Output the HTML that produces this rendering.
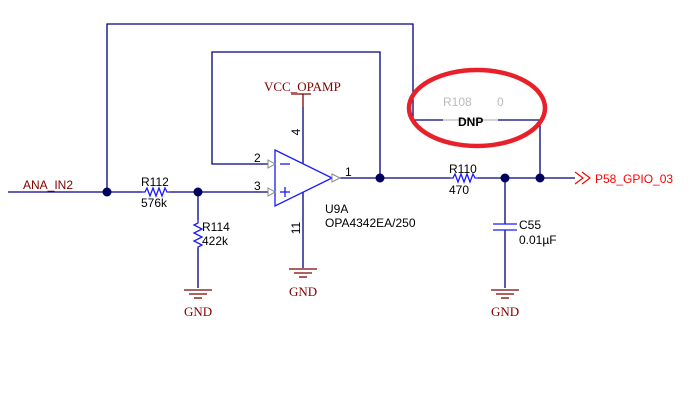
<!DOCTYPE html>
<html><head><meta charset="utf-8"><style>
body{margin:0;background:#fff}
svg{display:block}
text{font-family:"Liberation Sans",sans-serif;font-size:12px}
.s{font-family:"Liberation Serif",serif;font-size:13px}
</style></head><body>
<svg width="695" height="402" viewBox="0 0 695 402" xmlns="http://www.w3.org/2000/svg">
<g stroke="#00007f" stroke-width="1.3" fill="none">
<polyline points="107,192 107,24 413,24 413,120 443,120"/>
<polyline points="498,120 540,120 540,178"/>
<polyline points="268,164 212,164 212,52 380,52 380,178"/>
<line x1="8" y1="192" x2="142" y2="192"/>
<line x1="170" y1="192" x2="268" y2="192"/>
<line x1="340" y1="178" x2="450" y2="178"/>
<line x1="478" y1="178" x2="575" y2="178"/>
<line x1="198" y1="192" x2="198" y2="220"/>
<line x1="198" y1="248" x2="198" y2="288"/>
<line x1="505" y1="178" x2="505" y2="224"/>
<line x1="505" y1="230" x2="505" y2="288"/>
<line x1="303" y1="107" x2="303" y2="164"/>
<line x1="303" y1="192" x2="303" y2="268"/>
</g>
<line x1="443" y1="120" x2="498" y2="120" stroke="#bbb" stroke-width="1.2"/>
<g stroke="#1a1aff" stroke-width="1.3" fill="none">
<polyline points="142,192 145,192 147,188 150,196 153,188 156,196 159,188 162,196 165,188 167,192 170,192"/>
<polyline points="450,178 453,178 455,174 458,182 461,174 464,182 467,174 470,182 473,174 475,178 478,178"/>
<polyline points="198,220 198,223 194,225 202,229 194,233 202,237 194,241 202,245 198,247 198,248"/>
<polygon points="275,150 332,178 275,206"/>
<line x1="493" y1="224" x2="517" y2="224"/><line x1="493" y1="230" x2="517" y2="230"/>
<line x1="280" y1="164" x2="290" y2="164"/>
<line x1="280" y1="192" x2="290" y2="192"/><line x1="285" y1="187" x2="285" y2="197"/>
</g>
<g stroke="#888" fill="#fff" stroke-width="1">
<polygon points="268,160 275,164 268,168"/><polygon points="268,188 275,192 268,196"/>
<polygon points="332,174 340,178 332,182"/>
</g>
<g fill="#00005f">
<circle cx="107" cy="192" r="4.5"/><circle cx="198" cy="192" r="4.5"/>
<circle cx="380" cy="178" r="4.5"/><circle cx="505" cy="178" r="4.5"/><circle cx="540" cy="178" r="4.5"/>
</g>
<g stroke="#7f0000" stroke-width="1.3">
<line x1="291" y1="94" x2="311" y2="94"/><line x1="303" y1="94" x2="303" y2="107"/>
<line x1="184" y1="290" x2="212" y2="290"/><line x1="189" y1="294" x2="207" y2="294"/><line x1="194" y1="298" x2="202" y2="298"/>
<line x1="289" y1="269" x2="317" y2="269"/><line x1="294" y1="273" x2="312" y2="273"/><line x1="299" y1="277" x2="307" y2="277"/>
<line x1="491" y1="290" x2="519" y2="290"/><line x1="496" y1="294" x2="514" y2="294"/><line x1="501" y1="298" x2="509" y2="298"/>
</g>
<polyline points="575,172 583,178 575,184" stroke="#ff0000" fill="none" stroke-width="1.2"/>
<polyline points="582,172 590,178 582,184" stroke="#ff0000" fill="none" stroke-width="1.2"/>
<ellipse cx="477" cy="108" rx="68" ry="38" stroke="#e8202a" stroke-width="4.5" fill="none"/>
<g fill="#7f0000">
<text x="23" y="189">ANA_IN2</text>
<text class="s" x="264" y="91">VCC_OPAMP</text>
<text class="s" x="184" y="316">GND</text>
<text class="s" x="289" y="296">GND</text>
<text class="s" x="491" y="316">GND</text>
</g>
<g fill="#000">
<text x="141" y="186">R112</text><text x="141" y="207">576k</text>
<text x="202" y="231">R114</text><text x="202" y="245">422k</text>
<text x="254" y="162">2</text><text x="254" y="190">3</text><text x="345" y="176">1</text>
<text x="325" y="213">U9A</text><text x="325" y="227">OPA4342EA/250</text>
<text x="449" y="173">R110</text><text x="449" y="194">470</text>
<text x="519" y="229">C55</text><text x="519" y="244">0.01µF</text>
<text x="458" y="126" font-weight="bold">DNP</text>
<text transform="translate(300,132) rotate(-90)" text-anchor="middle">4</text>
<text transform="translate(300,228) rotate(-90)" text-anchor="middle">11</text>
</g>
<g fill="#bbb"><text x="443" y="106">R108</text><text x="497" y="106">0</text></g>
<text x="595" y="183" fill="#ff0000">P58_GPIO_03</text>
</svg>
</body></html>
